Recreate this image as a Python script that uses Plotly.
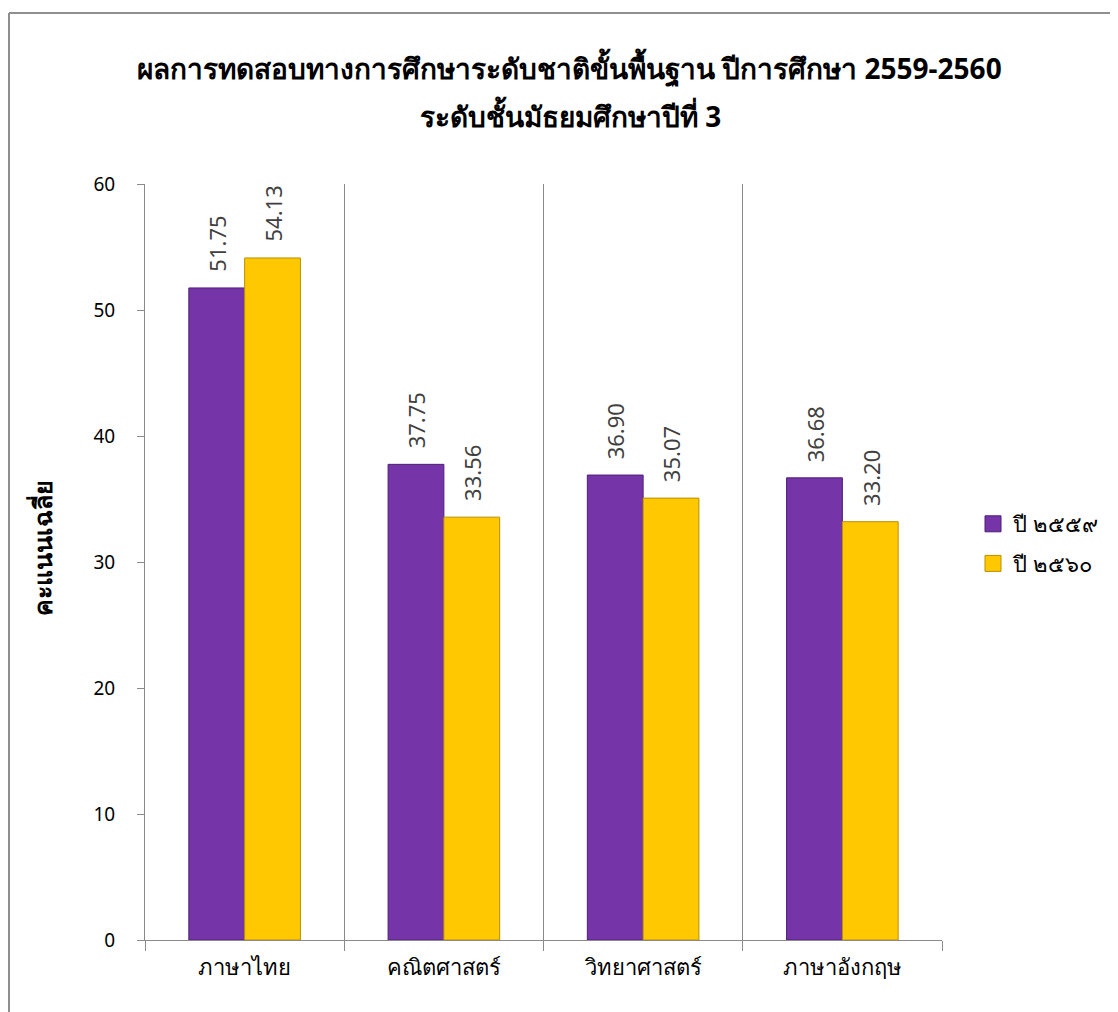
import plotly.graph_objects as go

categories = ["ภาษาไทย", "คณิตศาสตร์", "วิทยาศาสตร์", "ภาษาอังกฤษ"]
series_names = ["ปี ๒๕๕๙", "ปี ๒๕๖๐"]
values_2559 = [51.75, 37.75, 36.90, 36.68]
values_2560 = [54.13, 33.56, 35.07, 33.20]
y_ticks = [0, 10, 20, 30, 40, 50, 60]
title_lines = ["ผลการทดสอบทางการศึกษาระดับชาติขั้นพื้นฐาน ปีการศึกษา 2559-2560",
               "ระดับชั้นมัธยมศึกษาปีที่ 3"]
y_title = "คะแนนเฉลี่ย"

FONT = "Noto Sans, Tahoma, sans-serif"
OFF = 8  # page body margin
W, H = 1118 - OFF, 1012 - OFF
L, R, T, B = 145 - OFF, 1118 - 942, 184 - OFF, 1012 - 940
pw, ph = W - L - R, H - T - B

def px_x(x):
    return (x - OFF - L) / pw

def px_y(y):
    return (H - B - (y - OFF)) / ph

fig = go.Figure()
fills = ["#7534A8", "#FFC800"]
edges = ["#4f1f78", "#b98f00"]
all_vals = [values_2559, values_2560]
for i, (name, vals) in enumerate(zip(series_names, all_vals)):
    fig.add_trace(go.Bar(
        x=categories, y=vals, name=name,
        marker=dict(color=fills[i], line=dict(color=edges[i], width=1)),
        showlegend=False, hoverinfo="x+y",
    ))
    # legend swatch
    fig.add_trace(go.Scatter(
        x=[None], y=[None], mode="markers", name=name,
        marker=dict(symbol="square", size=16, color=fills[i],
                    line=dict(color=edges[i], width=1)),
        legendgroup=f"g{i}", showlegend=True,
    ))

bar_px = (pw / len(categories)) * (1 - 0.44) / 2
for i, vals in enumerate(all_vals):
    shift = (i - 0.5) * bar_px
    for c, v in zip(categories, vals):
        fig.add_annotation(x=c, y=v, text=f"{v:.2f}", showarrow=False,
                           textangle=-90, xanchor="center", yanchor="bottom",
                           xshift=shift, yshift=14,
                           font=dict(family=FONT, size=22, color="#404040"))

fig.update_layout(
    width=W, height=H,
    margin=dict(l=L, r=R, t=T, b=B, autoexpand=False),
    paper_bgcolor="white", plot_bgcolor="white",
    barmode="group", bargap=0.44, bargroupgap=0,
    font=dict(family=FONT, size=19, color="#000000"),
    legend=dict(x=px_x(973), y=px_y(544), xanchor="left", yanchor="middle",
                font=dict(family=FONT, size=22, color="#000000"),
                tracegroupgap=8, bgcolor="rgba(0,0,0,0)", itemsizing="trace"),
    xaxis=dict(type="category", tickson="boundaries", showgrid=True,
               gridcolor="#8a8a8a", gridwidth=1,
               showline=True, linecolor="#8a8a8a", linewidth=1,
               ticks="outside", ticklen=10, tickcolor="#8a8a8a",
               tickfont=dict(family=FONT, size=22, color="#000000"),
               ticklabelstandoff=8, automargin=False),
    yaxis=dict(range=[0, 60], tickvals=y_ticks, showgrid=False,
               showline=True, linecolor="#8a8a8a", linewidth=1,
               ticks="outside", ticklen=7, tickcolor="#8a8a8a",
               tickfont=dict(family=FONT, size=19, color="#000000"),
               ticklabelstandoff=18, zeroline=False, automargin=False),
)

fig.add_annotation(text=f"<b>{title_lines[0]}</b>", xref="paper", yref="paper",
                   x=px_x(569), y=px_y(68), showarrow=False,
                   xanchor="center", yanchor="middle",
                   font=dict(family=FONT, size=28, color="#000000"))
fig.add_annotation(text=f"<b>{title_lines[1]}</b>", xref="paper", yref="paper",
                   x=px_x(570), y=px_y(115), showarrow=False,
                   xanchor="center", yanchor="middle",
                   font=dict(family=FONT, size=28, color="#000000"))
fig.add_annotation(text=f"<b>{y_title}</b>", xref="paper", yref="paper",
                   x=px_x(42), y=px_y(548), showarrow=False, textangle=-90,
                   xanchor="center", yanchor="middle",
                   font=dict(family=FONT, size=25, color="#000000"))

# chart border (top and left edges visible)
fig.add_shape(type="line", xref="paper", yref="paper",
              x0=px_x(9), y0=px_y(13), x1=px_x(1125), y1=px_y(13),
              line=dict(color="#8f8f8f", width=2))
fig.add_shape(type="line", xref="paper", yref="paper",
              x0=px_x(9), y0=px_y(13), x1=px_x(9), y1=px_y(1020),
              line=dict(color="#8f8f8f", width=2))

fig.write_html("out.html")
